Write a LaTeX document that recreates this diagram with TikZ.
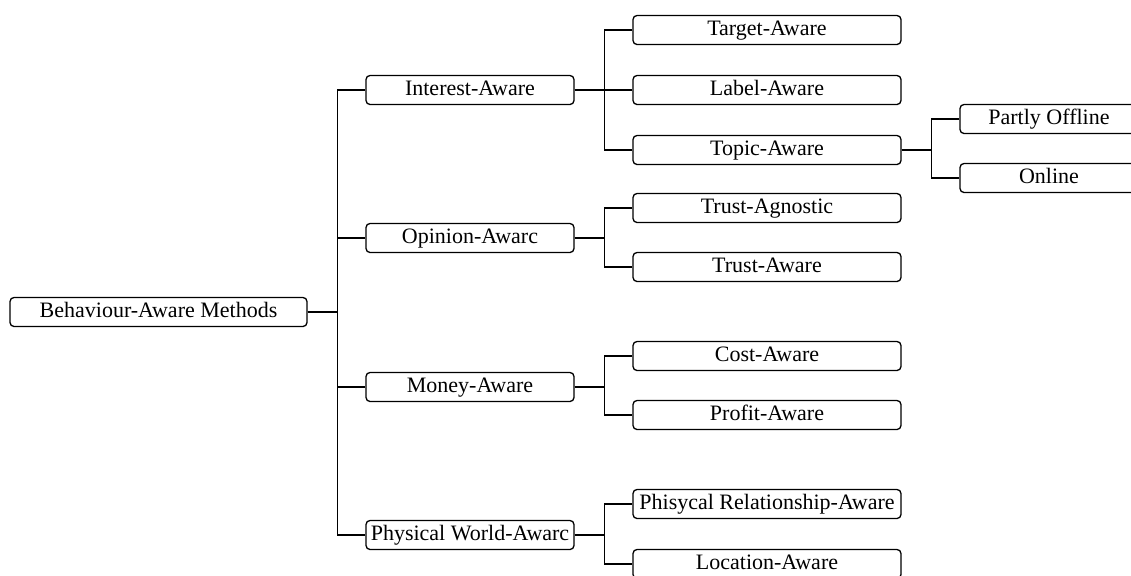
\documentclass[tikz,border=0pt]{standalone}
\usepackage{fontspec}
\setmainfont{Liberation Serif}
\usetikzlibrary{positioning}
\tikzstyle{block} = [draw, fill=white, rectangle, rounded corners=2pt, line width=0.65pt, inner sep=0pt, minimum height=14.5pt, text height=7.6pt, text depth=2.6pt, font=\fontsize{11}{13}\selectfont]
\tikzstyle{wire} = [line width=0.65pt]

\begin{document}
\begin{tikzpicture}[x=0.5pt, y=-0.5pt]
    \useasboundingbox (0,0) rectangle (1131,575);
    \node [block, minimum width=148.5pt] (bam) at (158.5,312) {Behaviour-Aware Methods};
    % first level
    \node [block, minimum width=104pt] (interest) at (470,90) {Interest-Aware};
    \node [block, minimum width=104pt] (opinion) at (470,238) {Opinion-Awarc};
    \node [block, minimum width=104pt] (money) at (470,387) {Money-Aware};
    \node [block, minimum width=104pt] (physical) at (470,535) {Physical World-Awarc};
    % second level
    \node [block, minimum width=134pt] (target) at (767,30) {Target-Aware};
    \node [block, minimum width=134pt] (label) at (767,90) {Label-Aware};
    \node [block, minimum width=134pt] (topic) at (767,150) {Topic-Aware};
    \node [block, minimum width=134pt] (agnostic) at (767,208) {Trust-Agnostic};
    \node [block, minimum width=134pt] (trust) at (767,267) {Trust-Aware};
    \node [block, minimum width=134pt] (cost) at (767,356) {Cost-Aware};
    \node [block, minimum width=134pt] (profit) at (767,415) {Profit-Aware};
    \node [block, minimum width=134pt] (relation) at (767,504) {Phisycal Relationship-Aware};
    \node [block, minimum width=134pt] (location) at (767,564) {Location-Aware};
    % third level
    \node [block, minimum width=89pt] (offline) at (1049,119) {Partly Offline};
    \node [block, minimum width=89pt] (online) at (1049,178) {Online};

    \foreach \n in {interest,opinion,money,physical}
        \draw [wire] (bam.east) -- ++(30,0) |- (\n.west);
    \foreach \n in {target,label,topic}
        \draw [wire] (interest.east) -- ++(30,0) |- (\n.west);
    \foreach \n in {agnostic,trust}
        \draw [wire] (opinion.east) -- ++(30,0) |- (\n.west);
    \foreach \n in {cost,profit}
        \draw [wire] (money.east) -- ++(30,0) |- (\n.west);
    \foreach \n in {relation,location}
        \draw [wire] (physical.east) -- ++(30,0) |- (\n.west);
    \foreach \n in {offline,online}
        \draw [wire] (topic.east) -- ++(30,0) |- (\n.west);
\end{tikzpicture}
\end{document}
